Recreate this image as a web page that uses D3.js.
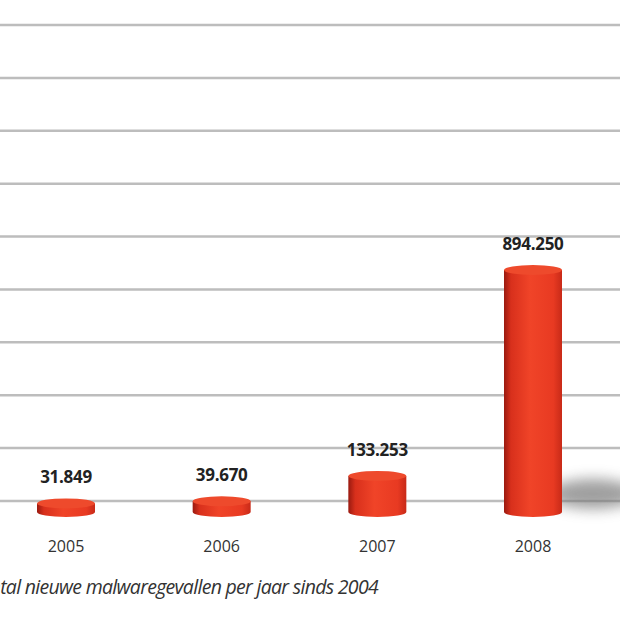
<!DOCTYPE html>
<html><head><meta charset="utf-8">
<script src="https://cdn.jsdelivr.net/npm/d3@7"></script>
<style>body{margin:0;background:#fff}</style>
</head><body>
<svg id="chart" width="620" height="620"></svg>
<script>
const years = ["2005", "2006", "2007", "2008"];
const values = [31849, 39670, 133253, 894250];
const valueLabels = ["31.849", "39.670", "133.253", "894.250"];
const gridCount = 10;
const caption = "Aantal nieuwe malwaregevallen per jaar sinds 2004";

const svg = d3.select("#chart");
const defs = svg.append("defs");

const grad = defs.append("linearGradient").attr("id", "cyl").attr("x1", "0").attr("x2", "1");
grad.append("stop").attr("offset", "0%").attr("stop-color", "#9a1a10");
grad.append("stop").attr("offset", "12%").attr("stop-color", "#d8301c");
grad.append("stop").attr("offset", "45%").attr("stop-color", "#f04428");
grad.append("stop").attr("offset", "85%").attr("stop-color", "#e83a22");
grad.append("stop").attr("offset", "100%").attr("stop-color", "#c82a18");

defs.append("filter").attr("id", "blur").attr("x", "-50%").attr("y", "-50%").attr("width", "200%").attr("height", "200%")
  .append("feGaussianBlur").attr("stdDeviation", 7);

// gridlines
const gy = d3.scaleLinear().domain([0, gridCount - 1]).range([25, 501]);
svg.append("g").selectAll("line").data(d3.range(gridCount)).join("line")
  .attr("x1", 0).attr("x2", 620)
  .attr("y1", d => gy(d)).attr("y2", d => gy(d))
  .attr("stroke", "#bdbdbd").attr("stroke-width", 2.5);

const x = d3.scalePoint().domain(years).range([66, 533]);
const y = d3.scaleLinear().domain([0, 894250]).range([512, 270]);
const bw = 58, ry = 5;

// shadow of the tallest bar
const last = years.length - 1;
svg.append("ellipse")
  .attr("cx", x(years[last]) + 60).attr("cy", 494)
  .attr("rx", 45).attr("ry", 15)
  .attr("fill", "#777").attr("opacity", 0.7).attr("filter", "url(#blur)");

const bars = svg.append("g").selectAll("g").data(years).join("g");
bars.append("path")
  .attr("d", (d, i) => {
    const l = x(d) - bw / 2, r = x(d) + bw / 2, t = y(values[i]), b = y(0);
    return `M${l},${t} L${l},${b} A${bw / 2},${ry} 0 0 0 ${r},${b} L${r},${t} Z`;
  })
  .attr("fill", "url(#cyl)");
bars.append("ellipse")
  .attr("cx", d => x(d)).attr("cy", (d, i) => y(values[i]))
  .attr("rx", bw / 2).attr("ry", ry)
  .attr("fill", "#ee4a2c");

bars.append("text")
  .attr("x", d => x(d)).attr("y", (d, i) => y(values[i]) - 20)
  .attr("text-anchor", "middle")
  .attr("font-family", "'Open Sans', sans-serif").attr("font-weight", "bold").attr("font-size", 17)
  .attr("letter-spacing", -0.3)
  .attr("fill", "#222")
  .text((d, i) => valueLabels[i]);

bars.append("text")
  .attr("x", d => x(d)).attr("y", 552)
  .attr("text-anchor", "middle")
  .attr("font-family", "'Open Sans', sans-serif").attr("font-size", 16)
  .attr("fill", "#333")
  .text(d => d);

svg.append("text")
  .attr("x", 378).attr("y", 594).attr("text-anchor", "end")
  .attr("font-family", "'Open Sans', sans-serif").attr("font-style", "italic").attr("font-size", 19.5)
  .attr("letter-spacing", -0.7)
  .attr("fill", "#333")
  .text(caption);
</script>
</body></html>
